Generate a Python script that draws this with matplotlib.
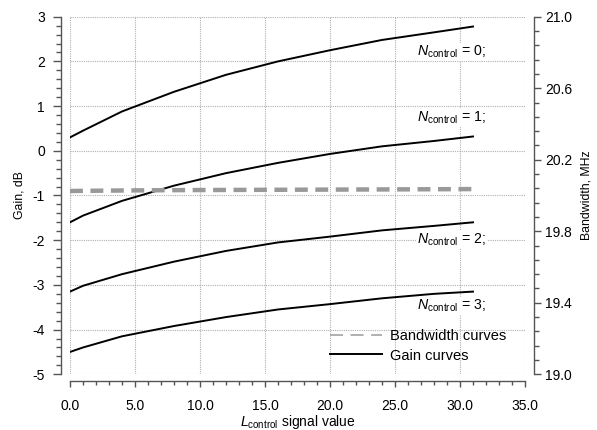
import matplotlib
matplotlib.use("Agg")
import matplotlib.pyplot as plt
import numpy as np
from matplotlib.ticker import MultipleLocator, FormatStrFormatter, FixedLocator
from matplotlib.lines import Line2D

plt.rcParams['font.family'] = ['Liberation Sans', 'DejaVu Sans']
plt.rcParams['mathtext.fontset'] = 'custom'
plt.rcParams['mathtext.rm'] = 'Liberation Sans'
plt.rcParams['mathtext.it'] = 'Liberation Sans:italic'

# data
l_control = [0, 1, 4, 8, 12, 16, 20, 24, 28, 31]
gain_n0 = [0.30, 0.45, 0.88, 1.32, 1.70, 2.00, 2.25, 2.48, 2.65, 2.78]
gain_n1 = [-1.60, -1.45, -1.12, -0.78, -0.50, -0.27, -0.07, 0.10, 0.22, 0.32]
gain_n2 = [-3.15, -3.02, -2.76, -2.48, -2.24, -2.05, -1.92, -1.78, -1.68, -1.60]
gain_n3 = [-4.50, -4.40, -4.15, -3.92, -3.72, -3.55, -3.43, -3.30, -3.20, -3.15]
bandwidth = [20.025, 20.026, 20.028, 20.030, 20.031, 20.032, 20.033, 20.034, 20.035, 20.036]
labels = ["0", "1", "2", "3"]
label_y = [2.21, 0.73, -2.0, -3.47]
bw_ticks = [19.0, 19.4, 19.8, 20.2, 20.6, 21.0]

fig = plt.figure(figsize=(5.97, 4.30), dpi=100)
ax = fig.add_axes([70/597, 1-374.3/430, 455/597, 357.6/430])
ax2 = ax.twinx()

spine_col = '#555555'
for g in [gain_n0, gain_n1, gain_n2, gain_n3]:
    ax.plot(l_control, g, color='black', lw=1.4, zorder=3)

ax2.plot(l_control, bandwidth, color='#999999', lw=3.2, dashes=(2.9, 1.7),
         dash_capstyle='butt', zorder=3)

for lab, yy in zip(labels, label_y):
    ax.text(26.7, yy, r'$N_{\mathrm{control}}$ = ' + lab + ';', fontsize=10.2,
            ha='left', va='center', zorder=4,
            bbox=dict(facecolor='white', edgecolor='none', pad=0.5))

ax.set_xlim(0, 35)
ax.set_ylim(-5, 3)
ax2.set_ylim(19, 21)

ax.xaxis.set_major_locator(MultipleLocator(5))
ax.xaxis.set_minor_locator(MultipleLocator(1))
ax.yaxis.set_major_locator(MultipleLocator(1))
ax.yaxis.set_minor_locator(MultipleLocator(0.2))
ax2.yaxis.set_major_locator(FixedLocator(bw_ticks))
ax2.yaxis.set_minor_locator(FixedLocator(np.linspace(19.0, 21.0, 26)))
ax.xaxis.set_major_formatter(FormatStrFormatter('%.1f'))
ax.yaxis.set_major_formatter(FormatStrFormatter('%d'))
ax2.yaxis.set_major_formatter(FormatStrFormatter('%.1f'))

ax.grid(True, which='major', color='#b0b0b0', linestyle=(0, (1, 1)), lw=0.8)
ax.set_axisbelow(True)
for gl in ax.get_xgridlines() + ax.get_ygridlines():
    gl.set_clip_on(False)

for s in ['top', 'right']:
    ax.spines[s].set_visible(False)
for s in ['top', 'left', 'bottom']:
    ax2.spines[s].set_visible(False)
ax.spines['left'].set_position(('outward', 6.7))
ax.spines['bottom'].set_position(('outward', 5))
ax2.spines['right'].set_position(('outward', 6.5))
for sp in [ax.spines['left'], ax.spines['bottom'], ax2.spines['right']]:
    sp.set_color(spine_col)
    sp.set_linewidth(1.0)

ax.tick_params(axis='y', which='major', direction='out', length=5.8, width=1.0,
               color=spine_col, labelsize=10, pad=5.5)
ax.tick_params(axis='y', which='minor', direction='out', length=3.6, width=1.0,
               color=spine_col)
ax.tick_params(axis='x', which='major', direction='out', length=4.3, width=1.0,
               color=spine_col, labelsize=10, pad=8.5)
ax.tick_params(axis='x', which='minor', direction='out', length=3.0, width=1.0,
               color=spine_col)
ax2.tick_params(axis='y', which='major', direction='out', length=5.0, width=1.0,
                color=spine_col, labelsize=10, pad=3)
ax2.tick_params(axis='y', which='minor', direction='out', length=3.6, width=1.0,
                color=spine_col)

ax.set_ylabel('Gain, dB', fontsize=8.8, labelpad=5)
ax2.set_ylabel('Bandwidth, MHz', fontsize=8.8, labelpad=6)
ax.set_xlabel(r'$L_{\mathrm{control}}$ signal value', fontsize=10, labelpad=0)

handles = [Line2D([], [], color='#aaaaaa', lw=1.3, dashes=(7.2, 4.2)),
           Line2D([], [], color='black', lw=1.4)]
ax.legend(handles, ['Bandwidth curves', 'Gain curves'], loc='center left',
          bbox_to_anchor=(0.571, 0.079), frameon=False, fontsize=10.5,
          handlelength=3.56, handletextpad=0.55, labelspacing=0.35,
          borderpad=0, borderaxespad=0)

fig.savefig('out.png', dpi=100)
